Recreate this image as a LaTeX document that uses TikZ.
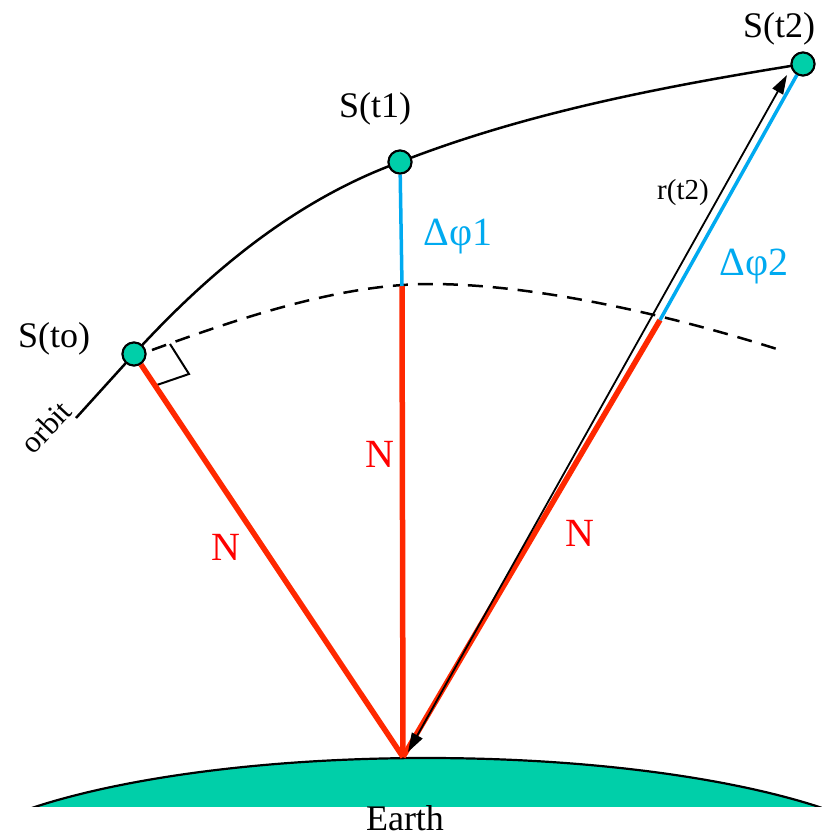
\documentclass[tikz,border=0pt]{standalone}
\usepackage{fontspec}
\setmainfont{Liberation Serif}
\usetikzlibrary{arrows.meta}
\definecolor{dotgreen}{RGB}{0,207,169}
\definecolor{nred}{RGB}{255,40,0}
\definecolor{tred}{RGB}{255,0,0}
\definecolor{phiblue}{RGB}{0,170,240}
\tikzset{
  sat/.style={circle, draw=black, line width=2pt, fill=dotgreen, minimum size=23pt, inner sep=0pt},
  nline/.style={draw=nred, line width=5.5pt},
  bline/.style={draw=phiblue, line width=3.5pt},
  orbitline/.style={draw=black, line width=2.5pt},
  dashline/.style={draw=black, line width=2.5pt, dash pattern=on 15pt off 10pt},
  lbl/.style={font=\fontsize{36}{40}\selectfont, anchor=base, inner sep=0pt},
  nlbl/.style={font=\fontsize{40}{44}\selectfont, text=tred, anchor=base, inner sep=0pt},
  plbl/.style={font=\fontsize{40}{44}\selectfont, text=phiblue, anchor=base, inner sep=0pt},
  rlbl/.style={font=\fontsize{29}{32}\selectfont, anchor=base, inner sep=0pt},
  olbl/.style={font=\fontsize{31}{33}\selectfont, inner sep=0pt},
  vecarrow/.style={draw=black, line width=1.8pt, {Triangle[length=19pt,width=12pt]}-{Triangle[length=19pt,width=12pt]}}
}
\begin{document}
\begin{tikzpicture}[x=1pt,y=-1pt]
\path[use as bounding box] (0,0) rectangle (822,836);
% Earth
\begin{scope}
  \clip (0,0) rectangle (822,806);
  \path[fill=dotgreen, draw=black, line width=2.2pt] (427,887) ellipse [x radius=500pt, y radius=129pt];
\end{scope}
\node[lbl] (earth) at (405,830) {Earth};

% key points
\coordinate (E) at (403,757);
\coordinate (J1) at (402,286);
\coordinate (J2) at (660,320);
\coordinate (tail) at (76,418);
\coordinate (d0) at (152,350);
\coordinate (dp) at (430,284);
\coordinate (d1) at (780,350);
\coordinate (rb) at (408,752);
\coordinate (rt) at (787,75);
\coordinate (ra1) at (170,344);
\coordinate (ra2) at (189,374);
\coordinate (ra3) at (154,386);

% satellites (positions)
\node[sat] (to) at (134,354) {};
\node[sat] (t1) at (400,162) {};
\node[sat] (t2) at (803,64) {};

% orbit
\draw[orbitline] (tail) -- (to.center);
\draw[orbitline] (to.center) .. controls (208,273) and (295,200) .. (t1.center)
                 .. controls (528,112) and (666,86) .. (t2.center);

% dashed circle
\draw[dashline] (d0) .. controls (240,318) and (340,284) .. (dp)
                     .. controls (540,284) and (680,318) .. (d1);

% right angle marker
\draw[black, line width=2pt] (ra1) -- (ra2) -- (ra3);

% N lines
\draw[nline] (to) -- (E);
\draw[nline] (J1) -- (E);
\draw[nline] (J2) -- (E);
% delta phi lines
\draw[bline] (t1) -- (J1);
\draw[bline] (J2) -- (t2);

% r(t2) vector
\draw[vecarrow] (rb) -- (rt);

% redraw satellites on top
\node[sat] at (to) {};
\node[sat] at (t1) {};
\node[sat] at (t2) {};

% labels
\node[lbl] (lto) at (54,347) {S(to)};
\node[lbl] (lt1) at (375,117) {S(t1)};
\node[lbl] (lt2) at (779,37) {S(t2)};
\node[plbl] (p1) at (458,245) {Δφ1};
\node[plbl] (p2) at (754,275) {Δφ2};
\node[rlbl] (rl) at (683,199) {r(t2)};
\node[nlbl] (n1) at (226,560) {N};
\node[nlbl] (n2) at (380,467) {N};
\node[nlbl] (n3) at (580,546) {N};
\node[olbl, rotate=47] (ol) at (46,427) {orbit};
\end{tikzpicture}
\end{document}
